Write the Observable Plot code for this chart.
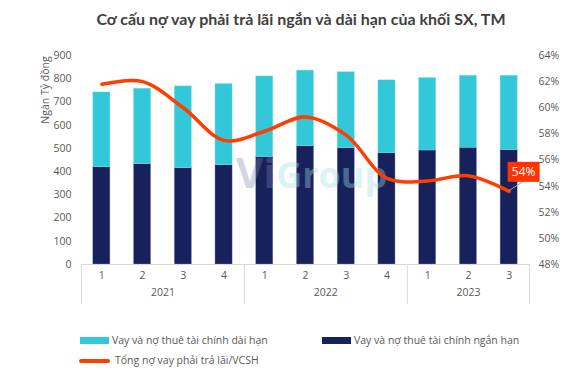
<!DOCTYPE html>
<html>
<head>
<meta charset="utf-8">
<script src="https://cdn.jsdelivr.net/npm/d3@7"></script>
<script src="https://cdn.jsdelivr.net/npm/@observablehq/plot@0.6"></script>
<style>
  html, body { margin: 0; padding: 0; background: #fff; }
  #wrap { position: relative; width: 584px; height: 375px; overflow: hidden; font-family: "Open Sans", sans-serif; color: #595959; }
  #wrap svg { position: absolute; left: 0; top: 0; }
  .title { position: absolute; left: 0; width: 602px; top: 9px; text-align: center; font-family: Lato, sans-serif; font-weight: 700; font-size: 16px; color: #404040; white-space: nowrap; }
  .ylab { position: absolute; left: 45px; top: 90px; transform: translate(-50%, -50%) rotate(-90deg); font-size: 10.5px; white-space: nowrap; color: #595959; }
  .leg { position: absolute; font-size: 10.5px; white-space: nowrap; line-height: 14px; color: #595959; }
  .sw { position: absolute; }
</style>
</head>
<body>
<div id="wrap">
  <div class="title">Cơ cấu nợ vay phải trả lãi ngắn và dài hạn của khối SX, TM</div>
</div>
<script>
// ---- data ----
const quarters = ["1", "2", "3", "4", "1", "2", "3", "4", "1", "2", "3"];
const years = ["2021", "2021", "2021", "2021", "2022", "2022", "2022", "2022", "2023", "2023", "2023"];
const shortTerm = [419, 432, 415, 428, 463, 510, 501, 480, 491, 503, 493];   // Vay và nợ thuê tài chính ngắn hạn
const longTerm  = [322, 325, 352, 349, 347, 325, 327, 313, 312, 310, 320];   // Vay và nợ thuê tài chính dài hạn
const ratio     = [61.8, 62.0, 60.0, 57.5, 58.2, 59.3, 57.9, 54.6, 54.4, 54.8, 53.6]; // Tổng nợ vay phải trả lãi/VCSH (%)
const leftTicks = [0, 100, 200, 300, 400, 500, 600, 700, 800, 900];
const rightTicks = [48, 50, 52, 54, 56, 58, 60, 62, 64];
const lastLabel = "54%";

const seriesNames = {
  long: "Vay và nợ thuê tài chính dài hạn",
  short: "Vay và nợ thuê tài chính ngắn hạn",
  ratio: "Tổng nợ vay phải trả lãi/VCSH"
};
const yTitle = "Ngàn Tỷ đồng";

const colors = { long: "#32C7D9", short: "#17215B", ratio: "#FF3D00" };

// ---- derived table ----
const rows = quarters.map((q, i) => ({
  i, q, year: years[i],
  short: shortTerm[i], long: longTerm[i], ratio: ratio[i]
}));
const L = [0, 900], R = [48, 64];
const conv = p => (p - R[0]) / (R[1] - R[0]) * (L[1] - L[0]) + L[0];
const unconv = v => (v - L[0]) / (L[1] - L[0]) * (R[1] - R[0]) + R[0];

const yearGroups = Array.from(d3.group(rows, d => d.year), ([year, rs]) => ({
  year, mid: d3.mean(rs, d => d.i), start: d3.min(rs, d => d.i) - 0.5
}));
const boundaries = yearGroups.map(g => g.start).concat([rows.length - 0.5]);
const half = 0.21;

const font = "Open Sans, sans-serif";

const labelMark = (index, scales) => {
  const last = rows[rows.length - 1];
  const px = scales.x(last.i), py = scales.y(conv(last.ratio));
  const g = d3.create("svg:g");
  const bx = px - 1, by = py - 29, bw = 32, bh = 20;
  g.append("line").attr("x1", px).attr("y1", py).attr("x2", px + 14).attr("y2", by + bh)
    .attr("stroke", "#a6a6a6").attr("stroke-width", 1);
  g.append("rect").attr("x", bx).attr("y", by).attr("width", bw).attr("height", bh).attr("fill", "#FF3300");
  g.append("text").attr("x", bx + bw / 2).attr("y", by + bh / 2).attr("dy", "0.35em")
    .attr("text-anchor", "middle").attr("fill", "#fff").attr("font-size", 12)
    .attr("font-family", font).text(lastLabel);
  return g.node();
};

// faint logo watermark of the source image
const watermark = () => {
  const t = d3.create("svg:text").attr("font-family", "Open Sans, sans-serif").attr("font-weight", 700)
    .attr("text-anchor", "start").attr("x", 236).attr("y", 188);
  t.append("tspan").attr("font-size", 42).attr("fill", "#7f86ad").attr("fill-opacity", 0.35).text("Vi");
  t.append("tspan").attr("font-size", 36).attr("fill", "#9fdde8").attr("fill-opacity", 0.4).text("Group");
  return t.node();
};

const chart = Plot.plot({
  width: 584,
  height: 375,
  marginTop: 55,
  marginBottom: 111,
  marginLeft: 81,
  marginRight: 55,
  style: { fontFamily: font, fontSize: "10.5px", color: "#595959", background: "transparent" },
  x: { domain: [-0.5, rows.length - 0.5], axis: null },
  y: { domain: L, axis: null },
  marks: [
    Plot.rectY(rows, { x1: d => d.i - half, x2: d => d.i + half, y1: 0, y2: "short", fill: colors.short, stroke: "#8090b8", strokeWidth: 0.4 }),
    Plot.rectY(rows, { x1: d => d.i - half, x2: d => d.i + half, y1: "short", y2: d => d.short + d.long, fill: colors.long, stroke: "#8fe0ea", strokeWidth: 0.4 }),
    watermark,
    Plot.ruleY([0], { stroke: "#d9d9d9" }),
    Plot.ruleX(boundaries, { stroke: "#d9d9d9", insetTop: 209, insetBottom: -40 }),
    Plot.axisY(leftTicks, { anchor: "left", tickSize: 0, tickPadding: 10, label: null, fill: "#595959", fontSize: 10.5 }),
    Plot.axisY(rightTicks.map(conv), { anchor: "right", tickSize: 0, tickPadding: 9, label: null, fill: "#595959", fontSize: 10.5,
      tickFormat: v => Math.round(unconv(v)) + "%" }),
    Plot.axisX(rows.map(d => d.i), { anchor: "bottom", tickSize: 0, tickPadding: 7, label: null, fill: "#595959", fontSize: 10.5,
      tickFormat: i => quarters[i] }),
    Plot.text(yearGroups, { x: "mid", frameAnchor: "bottom", dy: 31, text: "year", fill: "#595959", fontSize: 10.5 }),
    Plot.line(rows, { x: "i", y: d => conv(d.ratio), curve: "catmull-rom", stroke: colors.ratio, strokeWidth: 3.5 }),
    labelMark
  ]
});

const wrap = document.getElementById("wrap");
wrap.appendChild(chart);

// y axis title
const yl = document.createElement("div");
yl.className = "ylab"; yl.textContent = yTitle;
wrap.appendChild(yl);

// legend
function addSwatch(left, top, w, h, color, radius) {
  const s = document.createElement("div");
  s.className = "sw";
  Object.assign(s.style, { left: left + "px", top: top + "px", width: w + "px", height: h + "px", background: color, borderRadius: radius || "0" });
  wrap.appendChild(s);
}
function addText(left, top, text) {
  const t = document.createElement("div");
  t.className = "leg"; t.textContent = text;
  Object.assign(t.style, { left: left + "px", top: top + "px" });
  wrap.appendChild(t);
}
addSwatch(80, 337, 29, 7, colors.long);
addText(112, 333, seriesNames.long);
addSwatch(322, 337, 29, 7, colors.short);
addText(354, 333, seriesNames.short);
addSwatch(79, 359, 31, 3.5, colors.ratio, "2px");
addText(115, 353, seriesNames.ratio);
</script>
</body>
</html>
